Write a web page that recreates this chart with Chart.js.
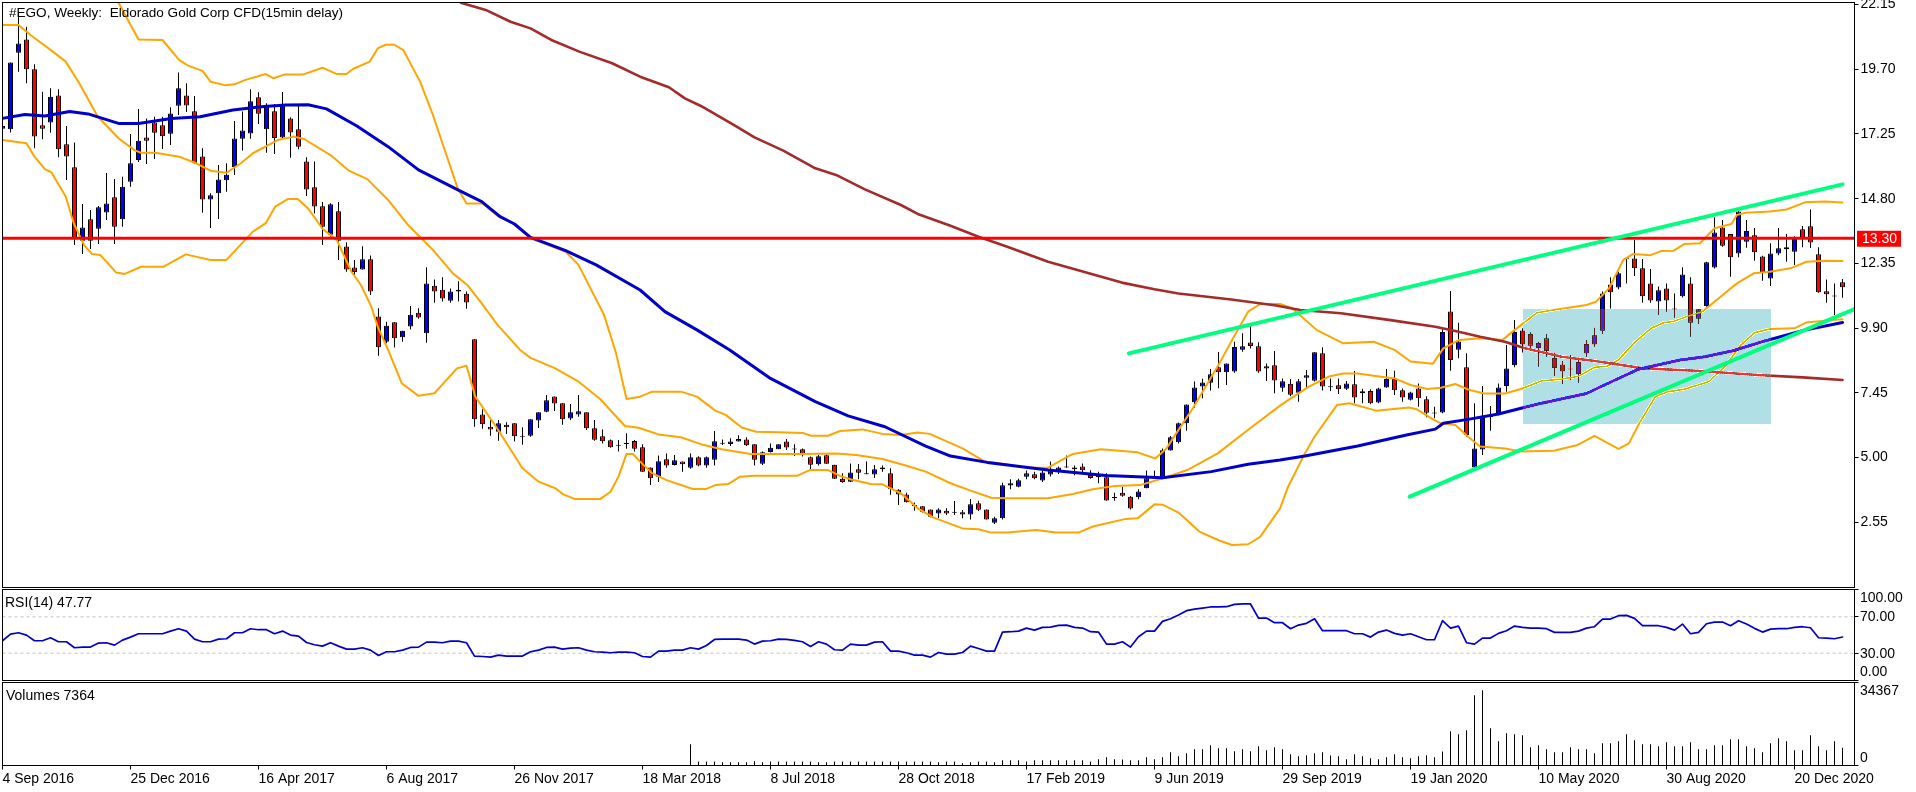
<!DOCTYPE html>
<html>
<head>
<meta charset="utf-8">
<title>#EGO, Weekly</title>
<script src="https://cdn.jsdelivr.net/npm/chart.js@4"></script>
<style>
html,body{margin:0;padding:0;background:#fff;overflow:hidden;width:1916px;height:792px}
canvas{position:absolute;left:0}
.lbl{position:absolute;font:14px "Liberation Sans",sans-serif;color:#000;white-space:pre;line-height:16px;z-index:5}
</style>
</head>
<body>
<canvas id="main" width="1916" height="589" style="top:0"></canvas>
<canvas id="rsi" width="1916" height="93" style="top:588px"></canvas>
<canvas id="vol" width="1916" height="111" style="top:681px"></canvas>
<div class="lbl" style="left:9px;top:5px;font-size:13.55px">#EGO, Weekly:  Eldorado Gold Corp CFD(15min delay)</div>
<div class="lbl" style="left:5px;top:594px">RSI(14) 47.77</div>
<div class="lbl" style="left:6px;top:687px">Volumes 7364</div>
<script>
const opens=[17.45,17.43,20.33,20.83,19.70,17.58,17.68,18.71,16.86,15.99,
13.21,14.02,13.66,14.28,14.85,14.02,15.44,16.26,17.12,17.68,
17.58,17.26,18.32,18.71,18.11,16.40,14.77,15.00,15.50,15.99,
17.07,17.27,18.64,17.43,18.11,17.12,17.84,17.43,16.21,15.23,
14.51,13.43,14.32,12.99,12.19,12.12,12.50,10.34,9.38,10.12,
9.55,9.96,10.48,9.70,11.50,11.35,10.93,11.35,11.20,9.47,
6.62,6.16,5.97,6.24,6.29,5.80,5.82,6.40,6.73,7.31,
7.05,6.47,6.62,6.71,6.10,5.80,5.65,5.47,5.52,5.62,
5.38,4.62,4.27,4.93,4.71,4.84,4.61,5.00,4.69,4.91,
5.53,5.51,5.60,5.68,5.50,4.76,5.20,5.31,5.60,5.31,
5.31,5.00,4.74,5.08,4.72,4.19,4.08,4.55,4.37,4.35,
4.62,4.40,3.77,3.59,3.20,3.15,3.03,2.87,2.98,2.91,
2.92,2.84,3.26,3.03,2.52,2.69,3.93,3.89,4.27,4.36,
4.12,4.35,4.46,4.63,4.62,4.65,4.33,4.32,4.25,3.47,
3.66,3.51,3.49,3.83,4.26,4.24,5.26,5.57,6.29,7.09,
7.68,7.83,8.41,8.22,8.25,9.08,9.35,9.21,8.45,8.49,
7.64,7.79,7.45,8.02,7.90,8.94,7.69,7.73,7.60,7.77,
7.43,7.51,7.08,7.65,7.97,7.54,7.18,7.61,7.20,6.67,
6.70,10.53,9.08,8.41,4.62,5.30,6.54,6.64,7.70,8.49,
9.81,9.67,9.14,9.51,8.76,8.52,8.34,8.16,8.93,9.28,
9.80,11.55,11.43,12.50,12.53,12.16,11.59,10.90,11.40,10.61,
11.10,11.59,10.25,10.73,12.19,13.71,13.46,12.72,13.17,13.41,
12.61,11.78,12.72,12.96,12.79,13.64,13.75,12.69,11.29,11.10,11.63];
const highs=[17.6,19.96,21.82,21.31,19.89,18.85,18.98,18.94,17.55,16.93,
14.60,14.37,14.52,15.77,15.54,15.63,17.25,18.20,17.84,17.90,
17.90,18.26,19.58,19.17,18.69,16.71,15.00,16.07,16.14,17.74,
18.10,18.94,18.83,18.41,18.39,18.84,17.88,18.33,16.37,16.21,
14.67,14.63,14.67,13.15,12.48,13.00,12.65,10.65,10.14,10.12,
9.80,10.73,10.65,12.20,11.74,11.82,11.40,11.67,11.28,9.47,
6.82,6.44,6.42,6.33,6.29,6.14,6.44,6.71,7.36,7.31,
7.05,7.02,7.36,6.71,6.42,6.06,5.68,5.66,5.91,5.66,
5.50,4.62,5.07,5.15,5.09,4.84,5.15,5.04,5.03,6.00,
5.68,5.72,5.84,5.76,5.50,5.22,5.53,5.50,5.70,5.50,
5.34,5.03,5.09,5.12,4.72,4.40,4.77,4.75,4.84,4.71,
4.69,4.59,3.79,3.66,3.29,3.15,3.03,3.07,3.07,3.35,
3.01,3.42,3.36,3.03,2.75,4.04,4.17,4.19,4.50,4.46,
4.50,4.84,4.65,5.07,4.69,4.77,4.51,4.46,4.40,3.66,
3.89,3.54,3.79,4.50,4.50,5.34,5.81,6.32,7.00,7.87,
7.98,8.35,8.99,8.56,9.38,9.70,9.98,9.36,8.56,9.03,
7.99,7.97,7.97,8.31,8.98,9.17,7.99,7.99,7.89,8.27,
7.60,7.58,7.64,8.35,8.28,7.61,7.49,7.80,7.32,6.92,
9.85,11.30,10.10,8.94,7.05,7.70,6.95,7.80,9.26,10.20,
9.89,9.74,9.38,9.67,8.96,8.65,8.88,8.78,9.45,9.91,
11.28,11.82,12.03,12.58,13.23,12.51,12.14,11.47,11.59,11.21,
12.20,11.82,10.61,12.41,14.09,13.99,13.46,14.37,13.99,13.69,
12.64,13.11,13.69,13.46,13.38,13.76,14.39,12.96,11.74,11.59,11.76];
const lows=[17.4,17.31,19.61,19.17,16.71,17.05,17.30,16.37,15.51,13.04,
12.70,12.89,13.08,13.99,13.08,13.74,15.25,16.19,16.11,16.30,
16.68,16.83,17.97,18.08,16.11,14.27,13.69,14.03,15.06,15.70,
16.62,17.07,17.63,16.54,16.49,17.07,16.35,16.67,14.90,14.24,
13.04,13.36,12.48,12.03,11.87,12.12,11.15,8.85,9.32,9.16,
9.38,9.84,10.25,9.34,10.86,10.90,10.86,10.90,10.63,6.16,
6.08,5.82,5.63,5.89,5.60,5.48,5.78,6.11,6.71,6.76,
6.24,6.42,6.54,6.04,5.63,5.53,5.36,5.22,5.33,5.22,
4.46,3.95,4.07,4.61,4.69,4.46,4.57,4.66,4.61,4.69,
5.47,5.43,5.60,5.43,4.69,4.71,5.18,5.31,5.28,5.05,
5.03,4.52,4.69,4.76,4.19,4.04,4.07,4.17,4.36,4.22,
4.46,3.58,3.20,3.29,2.98,2.91,2.73,2.69,2.82,2.82,
2.69,2.65,2.97,2.65,2.48,2.65,3.79,3.87,4.17,4.17,
4.07,4.28,4.37,4.61,4.32,4.37,4.19,4.02,3.36,3.36,
3.51,3.03,3.41,3.83,4.23,4.21,5.26,5.53,6.01,6.88,
7.24,7.53,7.62,7.74,8.21,9.00,9.12,8.21,7.89,7.43,
7.49,7.32,7.11,7.61,7.87,7.53,7.51,7.40,7.55,7.05,
7.05,7.01,7.05,7.64,7.36,7.11,7.15,6.92,6.52,6.48,
6.67,8.28,8.75,5.78,4.58,5.09,6.01,6.60,7.49,8.41,
8.97,9.07,8.44,8.81,8.08,7.78,7.93,7.83,8.81,9.19,
9.67,10.64,11.37,11.59,11.87,10.86,10.86,10.39,10.52,10.29,
11.06,9.57,10.05,10.71,12.15,12.98,11.84,12.58,12.94,12.45,
11.69,11.49,12.66,12.41,12.29,12.96,12.93,11.24,10.86,10.39,11.05];
const closes=[17.55,19.96,20.68,19.70,17.15,17.45,18.66,16.67,16.40,13.31,
13.71,13.21,14.47,14.62,13.74,15.25,16.14,16.99,16.99,17.30,
17.16,18.03,18.98,18.33,16.14,14.77,14.93,15.53,15.71,17.08,
17.38,18.49,18.02,18.36,17.10,18.35,17.31,16.77,15.15,14.50,
13.74,14.59,13.21,12.12,12.02,12.50,11.28,9.17,9.99,9.51,
9.80,10.40,10.30,11.59,11.28,11.02,11.28,11.28,10.87,6.44,
6.25,6.06,6.29,6.14,5.80,5.78,6.44,6.71,7.16,7.04,
6.44,6.71,6.75,6.10,5.67,5.61,5.38,5.44,5.51,5.33,
4.46,4.21,4.85,4.69,4.89,4.74,5.00,4.69,5.00,5.61,
5.52,5.60,5.70,5.46,4.91,5.19,5.36,5.50,5.37,5.30,
5.14,4.72,5.04,4.76,4.19,4.07,4.43,4.42,4.36,4.55,
4.55,3.79,3.59,3.30,3.15,2.94,2.75,3.03,2.87,2.90,
2.84,3.22,3.02,2.65,2.69,3.94,4.02,4.13,4.40,4.21,
4.43,4.50,4.62,4.62,4.55,4.51,4.22,4.25,3.37,3.46,
3.55,3.06,3.71,4.21,4.25,5.27,5.76,6.29,7.00,7.65,
7.84,8.15,8.22,8.56,9.18,9.21,9.22,8.25,8.37,7.91,
7.88,7.37,7.88,8.11,8.98,7.68,7.66,7.58,7.80,7.27,
7.50,7.05,7.61,7.97,7.54,7.27,7.46,7.24,6.69,6.66,
9.75,8.69,9.39,5.85,5.34,6.58,6.53,7.65,8.37,9.75,
9.28,9.23,9.33,9.02,8.39,8.25,8.33,8.61,9.29,9.63,
11.21,11.25,11.97,12.53,12.16,11.10,10.94,11.33,10.94,10.60,
11.93,10.10,10.61,12.39,13.52,13.02,12.58,14.31,13.57,12.77,
12.01,12.72,12.92,12.88,13.27,13.30,13.14,11.25,11.18,11.09,11.44];

// [bar index, price] vertices
const bandUpper=[[14.5,22.22],[17,20.83],[20,20.81],[22.1,20.05],[23.2,19.84],[25,19.64],[26,19.23],[27.8,19.10],[29,19.13],[30.3,19.29],[32.9,19.52],[33.9,19.36],[35.2,19.50],[37.5,19.50],[40,19.76],[41.8,19.52],[43,19.52],[43.8,19.71],[45.9,19.99],[46.9,20.49],[47.9,20.63],[49,20.63],[50.1,20.43],[51.2,19.80],[52.2,19.23],[53.8,17.97],[56.9,15.19],[58,14.62],[60,14.62],[62,14.12],[63.7,13.89],[66,13.30],[70.4,12.79],[72,12.29],[75.2,10.39],[76.7,8.94],[78,7.21],[79.7,7.30],[81.2,7.49],[84.8,7.49],[86.8,7.30],[89.1,6.77],[90.4,6.61],[92.4,6.13],[94.2,5.97],[97,5.95],[100.1,5.92],[101.1,5.82],[103.2,5.82],[104.7,6.00],[107.5,6.06],[110,5.89],[112.3,5.85],[114.4,5.94],[115.9,5.89],[120,5.34],[122.8,4.84],[124.8,4.77],[127.9,4.62],[130.7,4.61],[133.8,5.13],[137.3,5.31],[141.9,5.19],[144.1,4.96],[145.5,5.34],[147,6.04],[148.8,6.86],[152.1,8.56],[154.4,9.83],[155.7,10.52],[157.2,10.81],[159.7,10.81],[161.2,10.65],[164.3,9.82],[167.6,9.32],[171.4,9.38],[174,9.07],[176,8.63],[178.8,8.55],[180.1,9.13],[182.1,9.45],[184.7,9.51],[187.5,9.45],[189,9.82],[191.8,10.48],[193.9,10.58],[198,10.77],[199.2,10.90],[200.8,11.40],[202.6,12.48],[203.8,12.70],[206,12.66],[207.4,12.82],[208.9,12.83],[210.2,13.08],[212.2,13.11],[214,13.68],[216.1,13.84],[216.8,14.18],[217.9,14.27],[220.9,14.31],[223,14.39],[225.3,14.66],[227.8,14.69],[230,14.65]];
const bandMiddle=[[0,21.38],[2,21.38],[3.5,21.00],[6.3,20.37],[7.9,19.99],[9.6,19.17],[11.9,17.91],[14.5,17.09],[16.5,16.64],[17.3,16.54],[19.1,16.54],[22.1,16.39],[24.2,16.14],[26,15.86],[28,15.78],[29.8,16.14],[31.3,16.52],[34.4,17.02],[36.4,17.15],[37.7,17.06],[41,16.45],[43.3,15.86],[45.6,15.54],[48.2,14.75],[50.7,13.80],[53.8,12.86],[56.3,11.97],[58.1,11.53],[59.9,10.83],[61.9,10.01],[64.7,9.07],[66,8.77],[69.1,8.37],[71.9,7.89],[74.7,7.21],[77.8,6.19],[79.5,6.12],[82,5.87],[84.8,5.76],[87.3,5.50],[89.9,5.31],[93.5,5.13],[99.8,5.13],[104.2,5.15],[106.7,5.09],[110,4.94],[112.9,4.69],[115.4,4.46],[118.5,4.02],[121,3.74],[123.6,3.47],[125.6,3.45],[130.7,3.45],[133.8,3.61],[136.3,3.79],[139.1,3.92],[142.2,3.95],[145.5,4.25],[148.1,4.52],[151.9,5.15],[156.2,6.16],[159.7,6.96],[160.7,7.17],[163.3,7.68],[165.8,8.06],[167.6,8.18],[169.4,8.18],[171.4,8.09],[174,7.99],[176,7.74],[178.1,7.59],[179.8,7.64],[181.6,7.78],[183.4,7.55],[185.2,7.42],[187.8,7.42],[189.8,7.59],[192.3,7.89],[194.9,7.97],[196.9,8.06],[199,8.41],[200.5,8.44],[202,8.69],[204.1,9.38],[206.1,9.89],[207.7,10.11],[208.9,10.15],[210.7,10.35],[212.5,10.52],[214.5,11.02],[216.8,11.59],[218.9,11.97],[220.9,12.03],[223.5,12.16],[225.5,12.41],[227.8,12.45],[230,12.44]];
const bandLower=[[0,17.02],[3,16.90],[4,16.39],[5.3,15.92],[6.1,15.80],[7.9,14.88],[8.9,13.87],[10.2,13.04],[11.2,12.70],[12.2,12.67],[13.2,12.35],[14.2,12.00],[15.3,11.95],[17.3,12.22],[20.1,12.22],[22.9,12.69],[26,12.48],[28,12.48],[30.3,13.23],[31.3,13.55],[32.9,13.87],[34.1,14.50],[35.7,14.79],[36.9,14.79],[38.2,14.43],[40,13.66],[41.8,13.23],[43.6,12.04],[44.8,11.53],[46.1,10.71],[46.9,9.95],[48.2,9.07],[49.9,7.81],[52,7.33],[54,7.43],[56.8,8.37],[58,8.47],[59.1,7.30],[61.7,6.16],[65,4.59],[67,4.08],[69.1,3.83],[70.1,3.60],[71.6,3.42],[74.7,3.42],[76,3.70],[77,4.27],[78,5.13],[78.8,5.13],[79.7,4.84],[81.2,4.40],[83,4.14],[86.3,3.80],[87.9,3.80],[89.1,3.95],[90.7,3.99],[92.2,4.27],[94,4.30],[99.3,4.30],[100.9,4.52],[103.2,4.52],[104.7,4.30],[106,4.17],[108.5,3.99],[110,3.98],[112.3,3.64],[114.4,3.07],[116.4,2.72],[120,2.31],[122,2.28],[123.6,2.15],[125.6,2.15],[129.2,2.25],[131.7,2.15],[134.5,2.15],[136.3,2.38],[140.4,2.67],[141.9,2.69],[144,3.22],[145,3.21],[147,2.91],[149.6,2.19],[152.1,1.85],[153.7,1.68],[155.7,1.71],[157.2,1.99],[159.7,3.07],[160.7,3.89],[162.8,5.15],[164,5.78],[166.8,6.98],[168.4,7.05],[171.7,6.77],[175.8,6.89],[176.8,6.82],[178.8,6.44],[179.8,6.29],[181.6,6.23],[183.2,5.78],[184.7,5.41],[187.8,5.34],[189.8,5.22],[193.9,5.25],[196.9,5.47],[199,5.81],[202,5.32],[203.3,5.53],[204.6,6.29],[206.6,7.30],[208.2,7.49],[210.2,7.58],[213.3,7.87],[215.3,8.44],[217.3,9.26],[219,9.72],[220.9,9.86],[224,9.89],[225.5,10.11],[227.8,10.18],[230,10.23]];
const maBlue=[[0,17.84],[2.8,17.99],[5.3,17.93],[8.4,18.10],[10.7,18.01],[14.5,17.65],[17,17.65],[21.1,17.84],[24.7,17.90],[28.8,18.16],[32.3,18.28],[35.4,18.35],[38.2,18.36],[40.5,18.20],[44.3,17.55],[48.2,16.77],[52,15.89],[56.8,15.15],[59.9,14.69],[62.2,14.12],[64,13.84],[66,13.33],[70.4,12.83],[74.2,12.29],[79.7,11.34],[82.8,10.52],[86.8,9.83],[90.9,9.07],[96,7.99],[101.6,7.11],[105.7,6.57],[110.3,6.16],[115.4,5.43],[118.5,5.05],[123.1,4.81],[130.7,4.52],[137.9,4.31],[145,4.23],[151.1,4.46],[155.7,4.74],[159.7,4.90],[162.8,5.05],[169.4,5.43],[175.5,5.85],[179.1,6.07],[180.1,6.29],[183.2,6.44],[187,6.64],[191.8,7.01],[198,7.42],[200.5,7.78],[204.6,8.35],[209.7,8.69],[212.8,8.81],[216.3,9.04],[220.4,9.42],[225,9.80],[230,10.11]];
const maBrown=[[57.3,22.22],[60.4,21.95],[63.5,21.50],[66,21.25],[68.6,20.81],[72.1,20.37],[76.2,19.93],[79.7,19.42],[83.3,19.02],[85.3,18.60],[87.3,18.31],[91.4,17.59],[94,17.12],[97.6,16.62],[101.6,15.95],[104.2,15.70],[107.8,15.15],[112.3,14.56],[114.4,14.22],[118.5,13.77],[122,13.36],[125.6,12.98],[130.7,12.41],[135.8,11.97],[139.9,11.62],[144,11.37],[147,11.21],[153.6,10.98],[159.2,10.75],[162.2,10.58],[167.3,10.46],[173.5,10.20],[179.1,9.95],[181.6,9.79],[184.7,9.57],[187.8,9.38],[190.3,9.13],[194.9,8.81],[199.5,8.63],[205.1,8.37],[211.7,8.28],[219.4,8.12],[225,8.03],[230,7.93]];
const trendUpper=[[140.8,8.94],[230,15.34]];
const trendLower=[[175.9,3.51],[231.5,10.62]];
const resistance=13.30;
const boxFromBar=190, boxToBar=221, boxTop=10.62, boxBottom=6.26;

const rsiValues=[43.7,51.0,52.5,49.9,43.7,43.7,47.0,42.6,42.6,36.0,
36.7,36.7,41.1,41.5,38.9,44.4,47.7,51.4,51.4,51.4,
51.4,54.3,56.9,54.3,45.5,42.6,42.6,45.5,45.9,52.5,
52.5,56.9,55.8,55.8,51.4,54.3,49.9,48.8,41.8,39.3,
37.8,41.5,37.8,34.5,34.5,36.0,33.4,27.5,31.6,31.6,
33.4,36.3,36.7,42.2,42.2,41.5,43.3,43.3,41.5,26.8,
26.4,25.7,27.9,26.8,26.8,26.8,31.6,33.4,36.3,36.7,
34.5,35.6,36.0,33.4,31.6,31.2,30.5,31.2,31.2,30.5,
26.4,25.7,32.3,32.3,33.4,33.4,36.0,34.5,38.5,45.1,
45.5,45.5,45.5,44.4,40.0,43.3,43.7,45.5,45.1,44.0,
42.6,37.4,42.6,40.0,33.8,33.4,40.0,38.9,38.9,42.2,
42.6,32.3,32.3,30.5,27.9,27.9,25.7,30.8,29.0,29.0,
30.8,37.8,35.2,32.3,32.3,53.2,53.6,54.3,57.6,55.4,
58.4,58.7,60.6,60.9,58.4,57.6,53.6,53.2,40.0,40.0,
42.6,36.7,48.1,54.3,54.3,65.0,67.9,71.9,76.7,78.5,
79.6,80.8,80.8,81.1,83.7,84.1,84.1,68.6,68.6,63.5,
63.5,56.9,60.9,62.8,67.9,54.7,54.7,54.7,54.7,51.4,
51.4,47.7,53.2,55.4,51.8,49.9,51.4,48.1,44.8,44.8,
65.7,57.6,59.8,41.5,40.0,46.6,46.6,51.8,54.7,59.8,
58.4,57.6,57.6,56.9,52.9,52.9,52.9,54.3,57.6,59.1,
67.5,67.5,71.2,71.6,68.3,60.2,60.2,60.2,58.4,55.4,
62.0,51.4,52.9,62.4,64.2,64.2,60.2,65.7,62.0,57.3,
53.2,56.5,56.9,56.9,58.4,59.1,58.0,47.0,46.6,45.9,47.77];
const rsiLevels=[70,30];

const firstVolumeBar=86;
const volumes=[8830,1660,1660,1660,1380,1380,1380,1380,1790,1380,
1660,1660,1660,1660,1660,1660,1380,1380,1660,1660,
1660,1660,1660,1660,1660,1660,1660,1660,1660,1660,
1660,1380,1660,1660,970,1380,1660,1660,1380,2210,
2210,2210,1660,2210,2210,2210,2210,2210,2210,2210,
1660,2620,3450,2620,2480,2210,2210,3450,2620,3450,
5520,3860,5110,6760,6760,8420,7180,7180,5930,6760,
5930,8000,6350,7590,
6760,4690,3860,4280,5110,5520,4140,3860,2620,4690,
3860,3040,2620,3450,4690,3450,3040,3860,4280,3450,
5800,14210,12970,14630,29120,31190,15460,10070,13390,12970,
12560,7590,8420,6760,5520,5520,7590,6760,6760,5110,
9250,9250,10070,12970,10490,8830,8830,8000,9660,8000,
8000,9660,6760,6760,8420,8420,10900,10900,8000,7180,
5520,9250,11320,10070,6350,6350,12560,8000,6350,10070,7364];

const priceTicks=[22.15,19.70,17.25,14.80,12.35,9.90,7.45,5.00,2.55];
const rsiTicks=[100,70,30,0];
const volumeTicks=[34367,0];
const dateLabels=["4 Sep 2016","25 Dec 2016","16 Apr 2017","6 Aug 2017","26 Nov 2017","18 Mar 2018","8 Jul 2018","28 Oct 2018","17 Feb 2019","9 Jun 2019","29 Sep 2019","19 Jan 2020","10 May 2020","30 Aug 2020","20 Dec 2020"];
const barsPerDateLabel=16;

const FONT='14px "Liberation Sans", sans-serif';
const BLUE='#0000FF', RED='#FF0000';
const pts=a=>a.map(p=>({x:p[0],y:p[1]}));
const barIdx=opens.map((_,i)=>i);

Chart.defaults.font.family='"Liberation Sans", sans-serif';
Chart.defaults.font.size=14;
Chart.defaults.color='#000';
Chart.defaults.animation=false;

const frame={id:'frame',afterDraw(c){const a=c.chartArea,x=c.ctx;x.save();x.strokeStyle='#000';x.lineWidth=1;x.strokeRect(a.left,a.top,a.right-a.left,a.bottom-a.top);x.restore();}};

function overlayBox(c){
  const X=c.scales.x,Y=c.scales.y,x0=Math.round(X.getPixelForValue(boxFromBar)),x1=Math.round(X.getPixelForValue(boxToBar)),
        y0=Math.round(Y.getPixelForValue(boxTop)),y1=Math.round(Y.getPixelForValue(boxBottom));
  const img=c.ctx.getImageData(x0,y0,x1-x0,y1-y0),d=img.data;
  for(let i=0;i<d.length;i+=4){
    const a=d[i+3]/255;                 // transparent canvas sits on white page
    const r=d[i]+(1-a)*255,g=d[i+1]+(1-a)*255,b=d[i+2]+(1-a)*255;
    d[i]=Math.round(r)^0x4F;d[i+1]=Math.round(g)^0x1F;d[i+2]=Math.round(b)^0x19;d[i+3]=255;
  }
  c.ctx.putImageData(img,x0,y0);
}
const boxPlugin={id:'xorBox',afterDatasetDraw(c,args){if(c.data.datasets[args.index].boxAfter)overlayBox(c);}};
const priceTag={id:'priceTag',afterDraw(c){
  const x=c.ctx,y=c.scales.y.getPixelForValue(resistance);
  x.save();x.fillStyle=RED;x.fillRect(1857,y-7.5,44,16);
  x.fillStyle='#fff';x.font=FONT;x.textBaseline='middle';x.fillText(resistance.toFixed(2),1862,y+1);x.restore();
}};
function edgeLabels(ticks,fmt,shift){return {id:'edgeLabels',afterDraw(c){
  const x=c.ctx;x.save();x.fillStyle='#000';x.font=FONT;x.textBaseline='middle';
  ticks.forEach((t,i)=>x.fillText(fmt(t),1860,c.scales.y.getPixelForValue(t)+shift[i]));x.restore();
}};}

function yAxis(min,max,ticks,labelFn,show){
  return {position:'right',min,max,
    afterBuildTicks:s=>{s.ticks=ticks.map(v=>({value:v}));},
    afterFit:s=>{s.width=61.5;s.paddingTop=0;s.paddingBottom=0;},
    grid:{drawOnChartArea:false,drawTicks:true,tickLength:4,color:'#000'},
    border:{color:'#000',display:true},
    ticks:{display:show,padding:2,autoSkip:false,callback:labelFn,font:{size:14}}};
}
function xAxis(show){
  return {type:'linear',offset:false,min:0,max:231.5,display:show,
    afterBuildTicks:s=>{s.ticks=dateLabels.map((_,i)=>({value:i*barsPerDateLabel}));},
    afterFit:s=>{if(show){s.height=26.5;}s.paddingLeft=0;s.paddingRight=0;},
    grid:{drawOnChartArea:false,drawTicks:true,tickLength:4,color:'#000',offset:false},
    border:{color:'#000',display:true},
    ticks:{autoSkip:false,maxRotation:0,minRotation:0,align:'start',padding:1,font:{size:14},
      callback:v=>dateLabels[v/barsPerDateLabel]}};
}
const noChrome={legend:{display:false},tooltip:{enabled:false},title:{display:false}};
const lineDs=(data,color,width,order,extra)=>Object.assign({type:'line',data:pts(data),borderColor:color,borderWidth:width,pointRadius:0,tension:0,order,borderJoinStyle:'round',borderCapStyle:'round',fill:false},extra||{});

new Chart(document.getElementById('main'),{
  type:'bar',
  data:{datasets:[
    {data:barIdx.map(i=>({x:i,y:[lows[i],highs[i]]})),backgroundColor:'#000',borderWidth:0,barThickness:1,maxBarThickness:1,grouped:false,inflateAmount:0,order:10,minBarLength:1},
    {data:barIdx.map(i=>({x:i,y:[Math.min(opens[i],closes[i]),Math.max(opens[i],closes[i])]})),
     backgroundColor:barIdx.map(i=>Math.abs(closes[i]-opens[i])<0.02?'#000':(closes[i]>opens[i]?BLUE:RED)),
     borderColor:'#000',borderWidth:1,borderSkipped:false,barThickness:5,maxBarThickness:5,grouped:false,inflateAmount:0,order:9,minBarLength:1},
    lineDs(bandUpper,'#FFA500',2,8),
    lineDs(bandMiddle,'#FFA500',2,7),
    lineDs(bandLower,'#FFA500',2,6),
    lineDs(maBrown,'#A52A2A',2.6,5),
    lineDs(maBlue,'#0000CD',3,4,{boxAfter:true}),
    lineDs([[0,resistance],[231.5,resistance]],RED,3,3),
    lineDs(trendUpper,'#00FF7F',4,2),
    lineDs(trendLower,'#00FF7F',4,1)
  ]},
  options:{responsive:false,devicePixelRatio:1,animation:false,parsing:{xAxisKey:'x',yAxisKey:'y'},
    layout:{padding:{left:2.5,right:0,top:2.5,bottom:1.5}},
    plugins:noChrome,
    scales:{x:xAxis(false),y:yAxis(0.071,22.23,priceTicks,v=>v.toFixed(2),true)}},
  plugins:[frame,boxPlugin,priceTag]
});

new Chart(document.getElementById('rsi'),{
  type:'line',
  data:{datasets:[
    lineDs([[0,rsiLevels[0]],[231.5,rsiLevels[0]]],'#C0C0C0',1,3,{borderDash:[3,3],borderCapStyle:'butt'}),
    lineDs([[0,rsiLevels[1]],[231.5,rsiLevels[1]]],'#C0C0C0',1,2,{borderDash:[3,3],borderCapStyle:'butt'}),
    lineDs(rsiValues.map((v,i)=>[i,v]),'#0000CD',1.7,1)
  ]},
  options:{responsive:false,devicePixelRatio:1,animation:false,
    layout:{padding:{left:2.5,right:0,top:1.5,bottom:0.5}},
    plugins:noChrome,
    scales:{x:xAxis(false),y:yAxis(0,100,rsiTicks,()=>'',false)}},
  plugins:[frame,edgeLabels(rsiTicks,v=>v.toFixed(2),[8.5,0.5,0.5,-8.5])]
});

new Chart(document.getElementById('vol'),{
  type:'bar',
  data:{datasets:[{data:volumes.map((v,i)=>({x:firstVolumeBar+i,y:v})),backgroundColor:'#000',borderWidth:0,barThickness:1,maxBarThickness:1,grouped:false,inflateAmount:0}]},
  options:{responsive:false,devicePixelRatio:1,animation:false,
    layout:{padding:{left:2.5,right:0,top:1.5,bottom:0}},
    plugins:noChrome,
    scales:{x:xAxis(true),y:yAxis(0,34367,volumeTicks,()=>'',false)}},
  plugins:[frame,edgeLabels(volumeTicks,v=>String(v),[9,-7.5])]
});
</script>
</body>
</html>
